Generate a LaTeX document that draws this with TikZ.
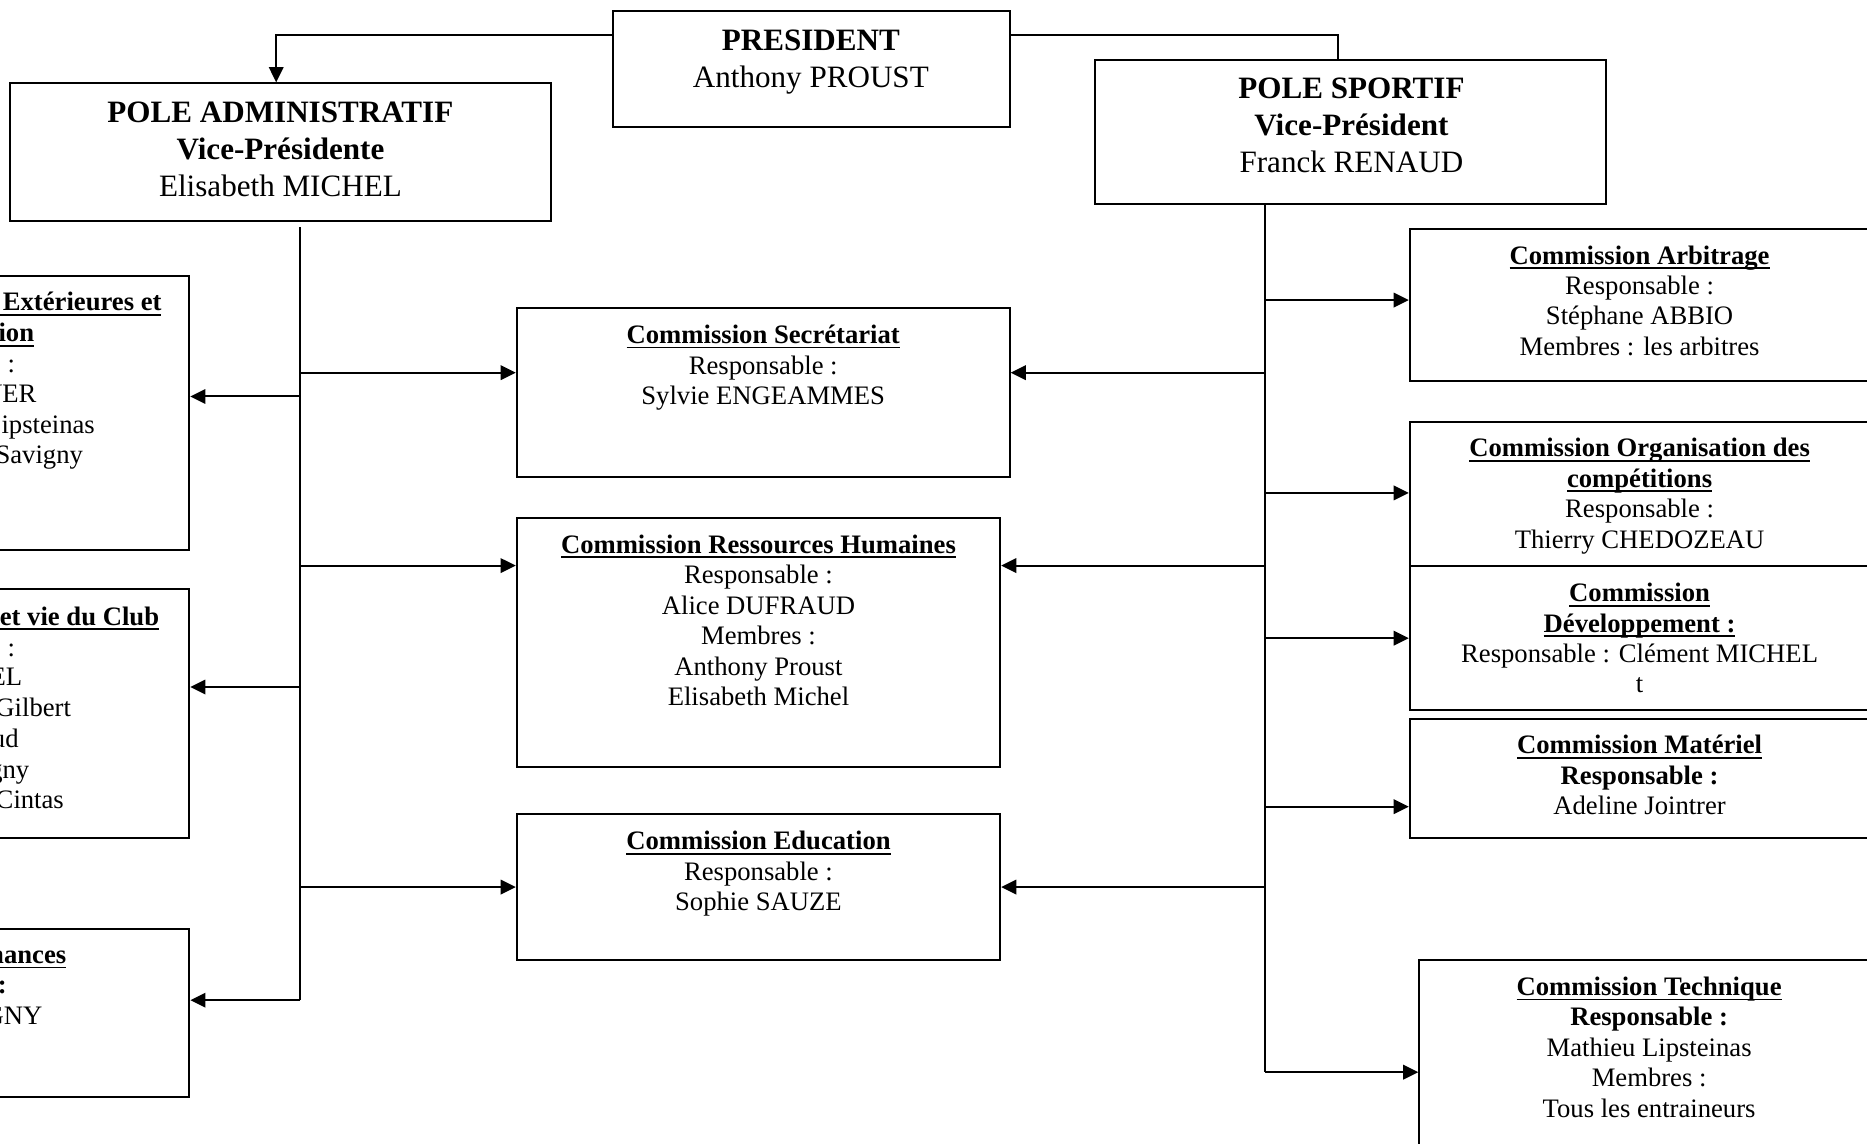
\documentclass[tikz,border=0pt]{standalone}
\usepackage{fontspec}
\setmainfont{Liberation Serif}
\usetikzlibrary{arrows.meta,fit}
\newcommand\uln[1]{\leavevmode\sbox0{#1}\rlap{\rule[-2.2pt]{\wd0}{0.8pt}}\usebox0}
\tikzset{
  box/.style={draw,line width=0.9pt,inner sep=0pt},
  conn/.style={line width=0.9pt},
  arr/.style={conn,-{Triangle[length=6.8pt,width=6.5pt]}},
  txt/.style={align=center,inner sep=0pt,font=\fontsize{12}{13.7}\selectfont},
  big/.style={align=center,inner sep=0pt,font=\fontsize{14}{16.6}\selectfont},
  frag/.style={anchor=east,inner sep=0pt,font=\fontsize{12}{13.7}\selectfont}}
\begin{document}
\begin{tikzpicture}[x=0.536pt,y=-0.536pt]
\useasboundingbox (0,0) rectangle (1568,960);
\clip (0,0) rectangle (1568,960);

% top level
\node[box,fit={(515,9) (848,107)}] (pres) {};
\node[big] (prest) at (681,51.5) {\strut\textbf{PRESIDENT}\\\strut Anthony PROUST};
\node[box,fit={(8,70) (463,186)}] (pa) {};
\node[big] (pat) at (235.5,128) {\strut\textbf{POLE ADMINISTRATIF}\\\strut\textbf{Vice-Présidente}\\\strut Elisabeth MICHEL};
\node[box,fit={(920,50) (1349,171)}] (ps) {};
\node[big] (pst) at (1135,107.5) {\strut\textbf{POLE SPORTIF}\\\strut\textbf{Vice-Président}\\\strut Franck RENAUD};

% left (clipped) boxes
\node[box,fit={(-60,232) (159,462)}] (l1) {};
\node[frag] (l1a) at (136,256) {\strut\textbf{\uln{\ Extérieures et}}};
\node[frag] (l1b) at (29,282) {\strut\textbf{\uln{ion}}};
\node[frag] (l1c) at (13,308) {\strut e :};
\node[frag] (l1d) at (31,333) {\strut VER};
\node[frag] (l1e) at (80,359) {\strut Lipsteinas};
\node[frag] (l1f) at (70,384) {\strut Savigny};

\node[box,fit={(-60,495) (159,704)}] (l2) {};
\node[frag] (l2a) at (134,520) {\strut\textbf{\uln{\ et vie du Club}}};
\node[frag] (l2b) at (13,546) {\strut e :};
\node[frag] (l2c) at (19,571) {\strut EL};
\node[frag] (l2d) at (60,597) {\strut Gilbert};
\node[frag] (l2e) at (16,623) {\strut ud};
\node[frag] (l2f) at (25,649) {\strut gny};
\node[frag] (l2g) at (54,674) {\strut Cintas};

\node[box,fit={(-60,780) (159,921)}] (l3) {};
\node[frag] (l3a) at (56,804) {\strut\textbf{\uln{nances}}};
\node[frag] (l3b) at (6,829) {\strut\textbf{:}};
\node[frag] (l3c) at (36,855) {\strut GNY};

% centre boxes
\node[box,fit={(434,259) (848,401)}] (sec) {};
\node[txt] (sect) at (641,309) {\strut\textbf{\uln{Commission Secrétariat}}\\\strut Responsable :\\\strut Sylvie ENGEAMMES};
\node[box,fit={(434,435) (840,644)}] (rh) {};
\node[txt] (rht) at (637,523.5) {\strut\textbf{\uln{Commission Ressources Humaines}}\\\strut Responsable :\\\strut Alice DUFRAUD\\\strut Membres :\\\strut Anthony Proust\\\strut Elisabeth Michel};
\node[box,fit={(434,684) (840,806)}] (edu) {};
\node[txt] (edut) at (637,734) {\strut\textbf{\uln{Commission Education}}\\\strut Responsable :\\\strut Sophie SAUZE};

% right (clipped) boxes
\node[box,fit={(1184,192) (1620,320)}] (arb) {};
\node[txt] (arbt) at (1377,255) {\strut\textbf{\uln{Commission Arbitrage}}\\\strut Responsable :\\\strut Stéphane ABBIO\\\strut Membres : les arbitres};
\node[box,fit={(1184,354) (1620,475)}] (org) {};
\node[txt] (orgt) at (1377,417) {\strut\textbf{\uln{Commission Organisation des}}\\\strut\textbf{\uln{compétitions}}\\\strut Responsable :\\\strut Thierry CHEDOZEAU};
\node[box,fit={(1184,475) (1620,596)}] (dev) {};
\node[txt] (devt) at (1377,538.5) {\strut\textbf{\uln{Commission}}\\\strut\textbf{\uln{Développement :}}\\\strut Responsable : Clément MICHEL\\\strut t};
\node[box,fit={(1184,604) (1620,704)}] (mat) {};
\node[txt] (matt) at (1377,653.6) {\strut\textbf{\uln{Commission Matériel}}\\\strut\textbf{Responsable :}\\\strut Adeline Jointrer};
\node[box,fit={(1192,806) (1620,1000)}] (tech) {};
\node[txt] (techt) at (1385,882) {\strut\textbf{\uln{Commission Technique}}\\\strut\textbf{Responsable :}\\\strut Mathieu Lipsteinas\\\strut Membres :\\\strut Tous les entraineurs};

% president connectors
\draw[arr] (pres.west |- 0,29) -| (pa.north -| 232,0);
\draw[conn] (pres.east |- 0,29) -| (ps.north -| 1124,0);

% left trunk
\coordinate (lt) at (252,191);
\coordinate (lb) at (252,840);
\coordinate (ja) at (252,313);
\coordinate (jb) at (252,333);
\coordinate (jc) at (252,475);
\coordinate (jd) at (252,577);
\coordinate (je) at (252,745);
\draw[conn] (lt) -- (lb);
\draw[arr] (lb) -- (lb -| l3.east);
\draw[arr] (jb) -- (jb -| l1.east);
\draw[arr] (jd) -- (jd -| l2.east);
\draw[arr] (ja) -- (ja -| sec.west);
\draw[arr] (jc) -- (jc -| rh.west);
\draw[arr] (je) -- (je -| edu.west);

% right trunk
\coordinate (rt) at (ps.south -| 1062,0);
\coordinate (rb) at (1062,900.5);
\coordinate (ka) at (1062,252);
\coordinate (kb) at (1062,313);
\coordinate (kc) at (1062,414);
\coordinate (kd) at (1062,475);
\coordinate (ke) at (1062,536);
\coordinate (kf) at (1062,677.5);
\coordinate (kg) at (1062,745);
\draw[conn] (rt) -- (rb);
\draw[arr] (rb) -- (rb -| tech.west);
\draw[arr] (ka) -- (ka -| arb.west);
\draw[arr] (kb) -- (kb -| sec.east);
\draw[arr] (kc) -- (kc -| org.west);
\draw[arr] (kd) -- (kd -| rh.east);
\draw[arr] (ke) -- (ke -| dev.west);
\draw[arr] (kf) -- (kf -| mat.west);
\draw[arr] (kg) -- (kg -| edu.east);
\end{tikzpicture}
\end{document}
